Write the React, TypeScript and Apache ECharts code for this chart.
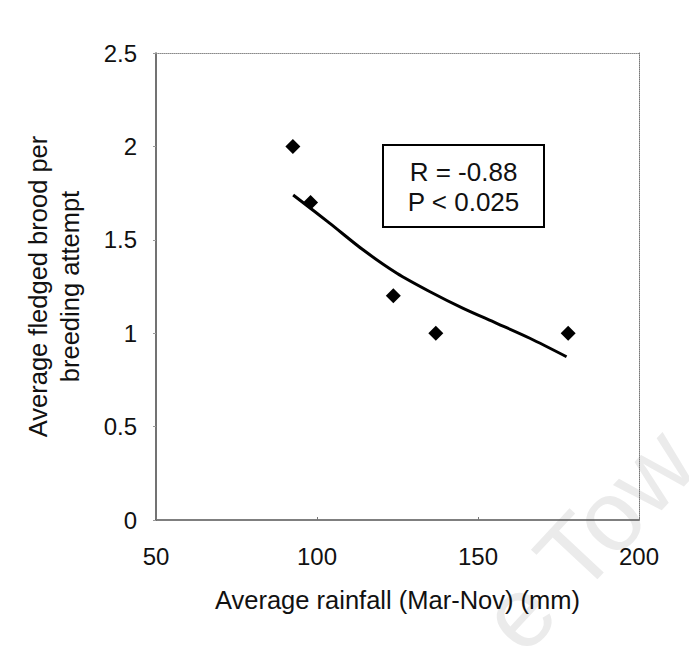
import React, { useEffect, useRef } from "react";
import * as echarts from "echarts";

const rainfall = [92.5, 98, 123.7, 136.9, 178];
const fledged = [2.0, 1.7, 1.2, 1.0, 1.0];

const trendX = [92.6, 104.0, 114.4, 124.8, 135.1, 145.4, 155.8, 166.1, 177.5];
const trendY = [1.74, 1.588, 1.445, 1.321, 1.222, 1.133, 1.053, 0.973, 0.874];

const xTitle = "Average rainfall (Mar-Nov) (mm)";
const yTitle = "Average fledged brood per\nbreeding attempt";
const statLines = ["R = -0.88", "P < 0.025"];
const watermark = "e Tow";

const FONT = "'Liberation Sans', Arial, sans-serif";

export default function App() {
  const ref = useRef<HTMLDivElement>(null);
  useEffect(() => {
    if (!ref.current) return;
    const chart = echarts.init(ref.current, undefined, { renderer: "svg" });
    const scatterData = rainfall.map((x, i) => [x, fledged[i]]);
    const trendData = trendX.map((x, i) => [x, trendY[i]]);
    chart.setOption({
      animation: false,
      backgroundColor: "#ffffff",
      textStyle: { fontFamily: FONT },
      grid: { left: 156, top: 53, width: 483, height: 467, containLabel: false },
      xAxis: [
        {
          type: "value",
          min: 50,
          max: 200,
          interval: 50,
          position: "bottom",
          name: xTitle,
          nameLocation: "middle",
          nameGap: 67,
          nameTextStyle: { fontSize: 25.5, color: "#111", fontFamily: FONT },
          axisLine: { show: true, onZero: false, lineStyle: { color: "#555", width: 1.5 } },
          axisTick: { show: true, inside: true, length: 3, lineStyle: { color: "#777" } },
          axisLabel: { fontSize: 24, color: "#111", margin: 24, fontFamily: FONT },
          splitLine: { show: false },
        },
        {
          type: "value",
          min: 50,
          max: 200,
          position: "top",
          axisLine: { show: true, onZero: false, lineStyle: { color: "#8a8a8a", width: 1, type: "dotted" } },
          axisTick: { show: false },
          axisLabel: { show: false },
          splitLine: { show: false },
        },
      ],
      yAxis: [
        {
          type: "value",
          min: 0,
          max: 2.5,
          interval: 0.5,
          position: "left",
          name: yTitle,
          nameLocation: "middle",
          nameGap: 70,
          nameRotate: 90,
          nameTextStyle: { fontSize: 25.5, color: "#111", lineHeight: 32, fontFamily: FONT, align: "center" },
          axisLine: { show: true, onZero: false, lineStyle: { color: "#444", width: 1.5 } },
          axisTick: { show: true, length: 3, lineStyle: { color: "#999" } },
          axisLabel: {
            fontSize: 24,
            color: "#111",
            margin: 19,
            fontFamily: FONT,
            formatter: (v: number) => String(v),
          },
          splitLine: { show: false },
        },
        {
          type: "value",
          min: 0,
          max: 2.5,
          position: "right",
          axisLine: { show: true, onZero: false, lineStyle: { color: "#777", width: 1, type: "dotted" } },
          axisTick: { show: false },
          axisLabel: { show: false },
          splitLine: { show: false },
        },
      ],
      series: [
        {
          type: "line",
          data: trendData,
          smooth: 0.3,
          showSymbol: false,
          symbol: "none",
          lineStyle: { color: "#000", width: 3 },
          z: 2,
        },
        {
          type: "scatter",
          data: scatterData,
          symbol: "diamond",
          symbolSize: 15,
          itemStyle: { color: "#000", opacity: 1 },
          z: 3,
        },
      ],
      graphic: [
        {
          type: "text",
          x: 535,
          y: 668,
          rotation: (47 * Math.PI) / 180,
          style: {
            text: watermark,
            fontSize: 100,
            fontFamily: FONT,
            fill: "#ebebeb",
            verticalAlign: "bottom",
          },
          z: -10,
        },
        {
          type: "rect",
          shape: { x: 383, y: 145, width: 161, height: 82 },
          style: { fill: "#fff", stroke: "#000", lineWidth: 2 },
          z: 10,
        },
        {
          type: "text",
          x: 463.5,
          y: 187,
          style: {
            text: statLines.join("\n"),
            fontSize: 26,
            lineHeight: 30,
            fontFamily: FONT,
            fill: "#111",
            align: "center",
            verticalAlign: "middle",
          },
          z: 11,
        },
      ],
    });
    return () => chart.dispose();
  }, []);
  return (
    <div
      ref={ref}
      style={{ position: "fixed", left: 0, top: 0, width: 689, height: 653, background: "#fff" }}
    />
  );
}
